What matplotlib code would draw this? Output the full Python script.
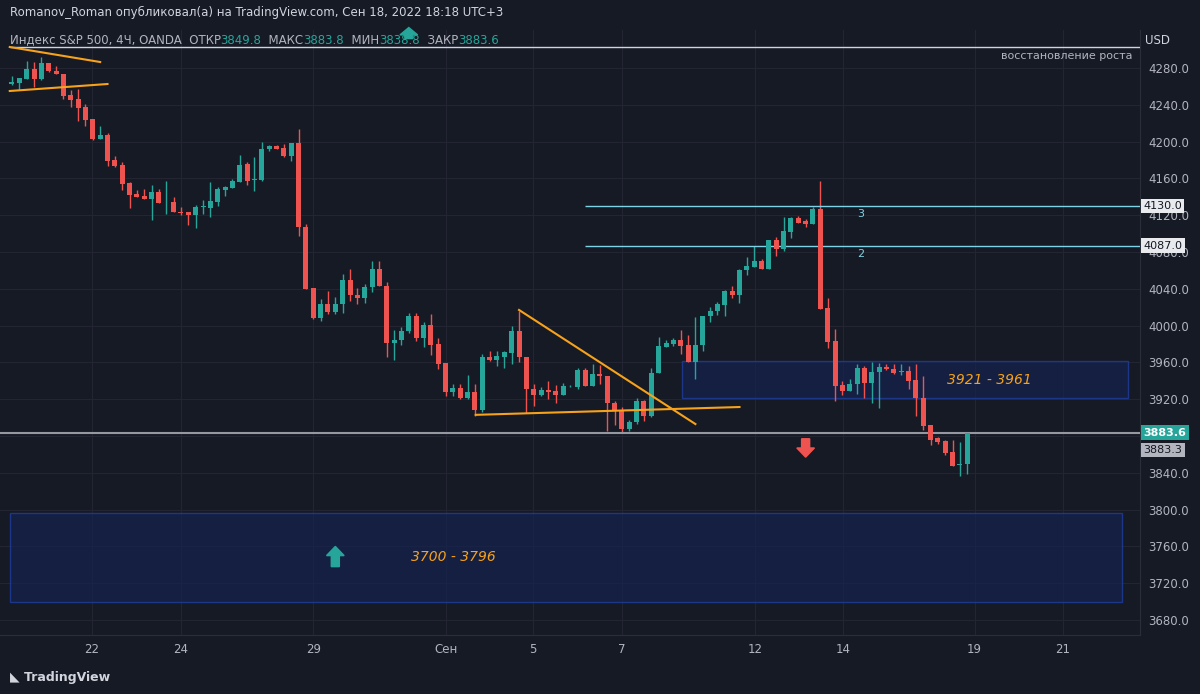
import matplotlib
matplotlib.use("Agg")
import matplotlib.pyplot as plt
from matplotlib.patches import Rectangle, FancyArrow

BG = "#161a25"
GRID = "#232632"
UP = "#26a69a"
DN = "#ef5350"
TXT = "#b2b5be"
ORANGE = "#f7a21b"
CYAN = "#7fd3e6"

# 4H candles, Aug 19 - Sep 16 2022 (open, high, low, close)
opens = [4263, 4264, 4268, 4279, 4268, 4285, 4277, 4274, 4251, 4246, 4238, 4225, 4203, 4207, 4180,
         4175, 4155, 4143, 4141, 4138, 4145, 4134, 4134, 4124, 4123, 4120, 4129, 4128, 4134, 4147,
         4150, 4156, 4176, 4158, 4158, 4192, 4195, 4193, 4184, 4199, 4107, 4041, 4008, 4024, 4015,
         4024, 4050, 4033, 4030, 4042, 4062, 4043, 3981, 3984, 3994, 4010, 3986, 4001, 3980, 3959,
         3928, 3932, 3921, 3928, 3908, 3966, 3963, 3966, 3970, 3994, 3966, 3931, 3925, 3930, 3929,
         3925, 3934, 3933, 3952, 3934, 3947, 3945, 3916, 3908, 3888, 3895, 3918, 3902, 3948, 3977,
         3980, 3984, 3979, 3960, 3979, 4010, 4016, 4022, 4038, 4033, 4060, 4064, 4070, 4062, 4093,
         4083, 4102, 4117, 4114, 4110, 4127, 4019, 3983, 3935, 3929, 3937, 3954, 3938, 3950, 3955,
         3953, 3950, 3951, 3941, 3921, 3892, 3878, 3875, 3863, 3849, 3849.8]
highs = [4271, 4269, 4288, 4286, 4292, 4285, 4282, 4274, 4256, 4257, 4241, 4225, 4217, 4209, 4184,
         4178, 4156, 4147, 4148, 4153, 4148, 4157, 4140, 4129, 4123, 4131, 4137, 4156, 4151, 4152,
         4159, 4185, 4178, 4183, 4200, 4196, 4196, 4197, 4199, 4214, 4110, 4041, 4029, 4038, 4031,
         4056, 4061, 4041, 4045, 4070, 4070, 4047, 3995, 3999, 4014, 4014, 4004, 4013, 3986, 3959,
         3936, 3937, 3946, 3936, 3969, 3972, 3972, 3972, 4000, 4016, 3966, 3936, 3933, 3940, 3935,
         3938, 3935, 3954, 3954, 3958, 3957, 3945, 3918, 3911, 3897, 3921, 3919, 3954, 3988, 3984,
         3986, 3995, 3990, 4009, 4010, 4020, 4026, 4039, 4043, 4062, 4075, 4086, 4072, 4093, 4096,
         4118, 4118, 4119, 4116, 4129, 4157, 4030, 3996, 3940, 3942, 3958, 3956, 3960, 3959, 3958,
         3958, 3958, 3956, 3958, 3945, 3892, 3879, 3876, 3876, 3873, 3883.8]
lows = [4262, 4256, 4268, 4259, 4267, 4276, 4274, 4246, 4238, 4222, 4217, 4202, 4203, 4174, 4172,
        4147, 4128, 4140, 4138, 4115, 4133, 4121, 4123, 4120, 4109, 4106, 4121, 4118, 4130, 4141,
        4150, 4156, 4153, 4146, 4157, 4190, 4192, 4183, 4179, 4097, 4040, 4007, 4005, 4013, 4013,
        4014, 4027, 4024, 4025, 4037, 4043, 3966, 3963, 3979, 3992, 3983, 3977, 3968, 3953, 3923,
        3924, 3920, 3920, 3902, 3906, 3961, 3956, 3954, 3958, 3960, 3905, 3913, 3923, 3920, 3916,
        3925, 3933, 3931, 3934, 3934, 3937, 3885, 3892, 3883, 3885, 3893, 3896, 3901, 3948, 3977,
        3978, 3969, 3960, 3942, 3972, 4004, 4011, 4010, 4030, 4025, 4055, 4064, 4061, 4062, 4076,
        4081, 4095, 4111, 4107, 4110, 4018, 3976, 3918, 3925, 3929, 3926, 3921, 3916, 3910, 3952,
        3947, 3946, 3931, 3902, 3887, 3870, 3871, 3859, 3847, 3836, 3838.8]
closes = [4265, 4269, 4279, 4268, 4285, 4277, 4274, 4250, 4245, 4236, 4224, 4203, 4207, 4179, 4174,
          4154, 4142, 4140, 4138, 4145, 4133, 4134, 4123, 4122, 4120, 4129, 4130, 4135, 4148, 4151,
          4157, 4175, 4157, 4159, 4192, 4195, 4192, 4184, 4199, 4107, 4040, 4008, 4024, 4015, 4024,
          4050, 4033, 4030, 4042, 4062, 4043, 3981, 3984, 3994, 4010, 3986, 4001, 3979, 3958, 3928,
          3932, 3921, 3928, 3908, 3966, 3963, 3967, 3971, 3994, 3966, 3931, 3925, 3930, 3928, 3925,
          3934, 3934, 3952, 3934, 3947, 3945, 3916, 3908, 3888, 3895, 3918, 3902, 3948, 3978, 3981,
          3984, 3978, 3960, 3979, 4010, 4016, 4023, 4038, 4033, 4060, 4065, 4070, 4062, 4093, 4083,
          4103, 4117, 4112, 4110, 4127, 4018, 3982, 3934, 3929, 3937, 3954, 3938, 3950, 3955, 3953,
          3949, 3951, 3940, 3921, 3891, 3876, 3874, 3861, 3847, 3849, 3883.6]

date_pos = [10.9, 23.0, 41.0, 59.0, 70.9, 83.0, 101.1, 113.1, 131.0, 143.0]
date_labels = ["22", "24", "29", "Сен", "5", "7", "12", "14", "19", "21"]
price_ticks = list(range(3680, 4281, 40))

zones = [(3921, 3961, "3921 - 3961"), (3700, 3796, "3700 - 3796")]
levels = [(4130.0, "3"), (4087.0, "2")]
last_close = 3883.6
prev_tag = 3883.3
top_level = 4302.5

YMIN, YMAX = 3663.7, 4321.3
W, H = 1200, 694
fig = plt.figure(figsize=(W / 100, H / 100), dpi=100, facecolor=BG)
ax = fig.add_axes([0, 1 - 635 / H, 1140 / W, 605 / H])
ax.set_facecolor(BG)
ax.set_xlim(-1.63, 153.5)
ax.set_ylim(YMIN, YMAX)
for s in ax.spines.values():
    s.set_color("#2a2e39")
ax.spines["left"].set_visible(False)
ax.spines["top"].set_visible(False)

ax.set_xticks(date_pos)
ax.set_xticklabels(date_labels)
ax.yaxis.tick_right()
ax.set_yticks(price_ticks)
# 3880 is covered by the last-price tag in the original
ax.set_yticklabels(["" if p == 3880 else f"{p:.1f}" for p in price_ticks])
ax.tick_params(colors=TXT, labelsize=8.5, length=0, pad=6)
ax.grid(True, color=GRID, linewidth=0.8)
ax.set_axisbelow(True)

# candles
n = len(closes)
xs = list(range(n))
cols = [UP if c >= o else DN for o, c in zip(opens, closes)]
ax.vlines(xs, lows, highs, colors=cols, linewidth=1, zorder=3)
bottoms = [min(o, c) for o, c in zip(opens, closes)]
heights = [max(abs(c - o), 0.8) for o, c in zip(opens, closes)]
ax.bar(xs, heights, bottom=bottoms, width=0.68, color=cols, zorder=4)

# zones
ZFC, ZEC = "#15224d", "#1f3fa8"
ax.add_patch(Rectangle((91.2, zones[0][0]), 60.6, zones[0][1] - zones[0][0],
                       facecolor=ZFC, alpha=0.75, edgecolor=ZEC, lw=1, zorder=2))
ax.text(133, sum(zones[0][:2]) / 2, zones[0][2], color=ORANGE, style="italic",
        fontsize=10, ha="center", va="center", zorder=5)
ax.add_patch(Rectangle((-0.3, zones[1][0]), 151.3, zones[1][1] - zones[1][0],
                       facecolor=ZFC, alpha=0.75, edgecolor=ZEC, lw=1, zorder=2))
ax.text(60, sum(zones[1][:2]) / 2, zones[1][2], color=ORANGE, style="italic",
        fontsize=10, ha="center", va="center", zorder=5)

# levels
for lv, lab in levels:
    ax.hlines(lv, 78, 153.5, color=CYAN, lw=1, zorder=3)
    ax.text(115.5, lv - 9, lab, color=CYAN, fontsize=8, ha="center", va="center")
ax.hlines(top_level, -0.3, 153.5, color="#d1d4dc", lw=1, zorder=3)
ax.text(152.5, top_level - 9, "восстановление роста", color=TXT, fontsize=8,
        ha="right", va="center")
ax.axhline(last_close, color="#9598a1", lw=1.5, zorder=3)

# trend lines
tl = [((-0.3, 12.0), (4302.8, 4286.5)), ((-0.3, 13.0), (4255.0, 4262.6)),
      ((69.0, 93.0), (4017.0, 3893.0)), ((63.1, 99.0), (3903.0, 3911.5))]
for xx, yy in tl:
    ax.plot(xx, yy, color=ORANGE, lw=1.5, zorder=5)

# arrows
ax.add_patch(FancyArrow(44, 3738, 0, 12, width=1.1, head_width=2.4, head_length=10,
                        length_includes_head=False, color=UP, zorder=6))
ax.add_patch(FancyArrow(108, 3877, 0, -10, width=1.1, head_width=2.4, head_length=10,
                        length_includes_head=False, color=DN, zorder=6))
ax.add_patch(FancyArrow(54, 4312, 0, 4, width=1.1, head_width=2.4, head_length=8,
                        length_includes_head=False, color=UP, zorder=6, clip_on=False))

# price tags on axis
def tag(y, text, fc, tc, bold=False):
    ax.text(1.003, (y - YMIN) / (YMAX - YMIN), text, transform=ax.transAxes,
            fontsize=8, color=tc, ha="left", va="center",
            fontweight="bold" if bold else "normal", zorder=10,
            bbox=dict(boxstyle="square,pad=0.2", fc=fc, ec="none"))

for lv, _ in levels:
    tag(lv, f"{lv:.1f}", "#e8eaee", "#131722")
tag(prev_tag - 18.5, f"{prev_tag:.1f}", "#b2b5be", "#131722")
tag(last_close, f"{last_close:.1f}", UP, "white", bold=True)

# header and footer
fig.text(0.008, 1 - 12 / H, "Romanov_Roman опубликовал(а) на TradingView.com, Сен 18, 2022 18:18 UTC+3",
         color="#d1d4dc", fontsize=8.5, va="center")
legend_parts = [("Индекс S&P 500, 4Ч, OANDA  ОТКР", TXT), ("3849.8", UP), ("  МАКС", TXT),
                ("3883.8", UP), ("  МИН", TXT), ("3838.8", UP), ("  ЗАКР", TXT), ("3883.6", UP)]
xpos = 0.008
fig.canvas.draw()
for t, c in legend_parts:
    txt = fig.text(xpos, 1 - 40 / H, t, color=c, fontsize=8.5, va="center")
    xpos += txt.get_window_extent(renderer=fig.canvas.get_renderer()).width / W
fig.text(1145 / W, 1 - 40 / H, "USD", color="#d1d4dc", fontsize=8.5, va="center")
fig.text(0.008, 1 - 677 / H, "◣ TradingView", color="#d1d4dc", fontsize=9,
         fontweight="bold", va="center")

fig.savefig("out.png", dpi=100, facecolor=BG)
